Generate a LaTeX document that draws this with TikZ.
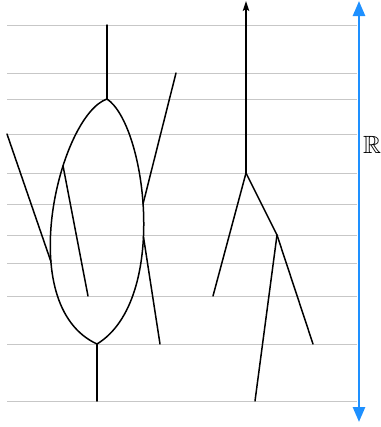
\documentclass[tikz,border=0pt]{standalone}
\usepackage{amssymb}
\usetikzlibrary{arrows.meta}
\definecolor{axisblue}{RGB}{30,144,255}
\tikzset{
  gridline/.style={draw=black!22, line width=1bp},
  branch/.style={draw=black, line width=1.5bp, line cap=round, line join=round},
  axisline/.style={draw=axisblue, line width=2.5bp, {Triangle[length=15bp,width=12bp]}-{Triangle[length=15bp,width=12bp]}},
}
\begin{document}
\begin{tikzpicture}[x=1bp,y=-1bp]
\useasboundingbox (0,0) rectangle (381,427);
% grid lines
\foreach \yy in {25,73,99,134,173,204,235,263,296,344,401}
  \draw[gridline] (7,\yy) -- (357,\yy);
% left figure
\coordinate (top) at (107,25);
\coordinate (A) at (107,99);
\coordinate (B) at (97,344);
\coordinate (bot) at (97,401);
\draw[branch] (top) -- (A);
\draw[branch] (B) -- (bot);
\draw[branch] (A) .. controls (60,115) and (12,305) .. (B)
  coordinate[pos=0.35] (L1) coordinate[pos=0.65] (L2);
\draw[branch] (A) .. controls (146,125) and (169,300) .. (B)
  coordinate[pos=0.465] (R1) coordinate[pos=0.57] (R2);
\coordinate (lt) at (7,134);
\coordinate (lb) at (88,296);
\coordinate (rt) at (176,73);
\coordinate (rb) at (160,344);
\draw[branch] (lt) -- (L2);
\draw[branch] (L1) -- (lb);
\draw[branch] (rt) -- (R1);
\draw[branch] (R2) -- (rb);
% right figure
\coordinate (C) at (246,173);
\coordinate (Ctop) at (246,1);
\coordinate (D) at (277,235);
\coordinate (E) at (213,296);
\coordinate (F) at (313,344);
\coordinate (G) at (255,401);
\draw[branch, -{Stealth[length=10bp,width=6.5bp,inset=2bp]}] (C) -- (Ctop);
\draw[branch] (C) -- (E);
\draw[branch] (C) -- (D);
\draw[branch] (D) -- (F);
\draw[branch] (D) -- (G);
% axis
\coordinate (ax1) at (359,422);
\coordinate (ax2) at (359,1);
\draw[axisline] (ax1) -- (ax2);
\node[anchor=base west, inner sep=0pt, font=\fontsize{25}{25}\selectfont] (Rlab) at (363,153) {$\mathbb{R}$};
\end{tikzpicture}
\end{document}
